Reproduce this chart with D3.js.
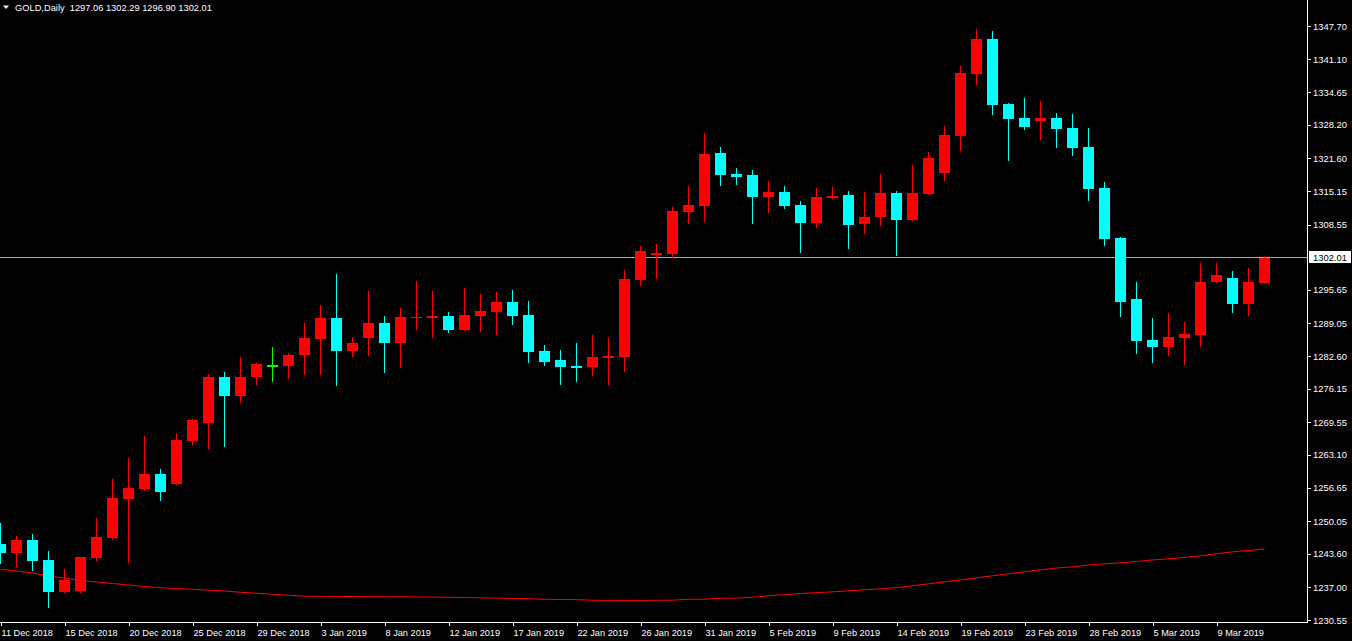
<!DOCTYPE html>
<html>
<head>
<meta charset="utf-8">
<script src="https://cdn.jsdelivr.net/npm/d3@7"></script>
<style>
  html, body { margin: 0; padding: 0; background: #000; }
  svg { display: block; }
  text { font-family: "Liberation Sans", Arial, sans-serif; }
</style>
</head>
<body>
<svg id="chart" width="1352" height="641"></svg>
<script>
// ---- Data (GOLD, Daily) ----
const symbol = "GOLD,Daily";
const lastQuote = [1297.06, 1302.29, 1296.90, 1302.01];

const open = [1245.54,1243.77,1246.33,1242.39,1236.13,1236.33,1242.84,1246.78,1254.47,1256.45,
  1259.35,1257.43,1265.91,1269.46,1278.48,1274.79,1278.54,1280.78,1280.71,1282.87,
  1286.03,1290.11,1283.66,1286.23,1289.13,1285.24,1290.17,1290.17,1290.51,1287.81,
  1290.57,1291.36,1293.27,1290.70,1283.60,1281.83,1280.65,1280.51,1282.28,1282.48,
  1297.67,1302.60,1302.79,1311.08,1312.26,1322.65,1318.51,1318.31,1314.04,1314.96,
  1312.40,1308.91,1313.84,1314.37,1308.71,1310.09,1314.77,1309.50,1314.63,1318.77,
  1326.07,1338.29,1345.14,1332.32,1329.56,1329.02,1329.56,1327.58,1323.84,1315.75,
  1305.89,1293.86,1285.77,1284.45,1286.23,1286.82,1297.27,1298.00,1292.93,1297.06];
const high = [1249.68,1247.12,1247.51,1244.16,1240.61,1242.98,1250.67,1258.36,1262.50,1266.84,
  1260.33,1267.43,1270.19,1279.07,1279.46,1282.42,1281.24,1284.39,1283.21,1289.13,
  1292.68,1298.79,1286.37,1295.44,1290.51,1292.08,1297.41,1295.44,1291.30,1296.03,
  1294.85,1295.24,1295.63,1293.47,1284.79,1283.80,1285.18,1286.76,1286.17,1299.58,
  1304.31,1304.71,1312.00,1316.15,1326.60,1323.84,1319.70,1319.30,1317.13,1316.15,
  1313.19,1315.75,1315.95,1315.16,1314.96,1318.51,1315.16,1320.29,1322.85,1327.98,
  1339.81,1347.11,1346.71,1332.51,1333.50,1332.91,1330.54,1330.35,1327.58,1316.93,
  1306.09,1297.21,1290.11,1291.10,1289.32,1300.96,1300.96,1299.38,1299.97,1302.29];
const low = [1241.66,1241.00,1240.27,1232.98,1235.88,1235.88,1242.25,1246.39,1241.85,1256.05,
  1254.08,1257.20,1265.12,1264.34,1264.73,1273.41,1276.96,1277.55,1278.14,1278.87,
  1278.93,1276.76,1282.48,1282.68,1279.32,1280.31,1287.81,1286.23,1287.21,1287.60,
  1287.41,1286.82,1288.79,1281.30,1280.71,1276.96,1277.55,1278.73,1276.96,1279.52,
  1296.48,1297.86,1302.00,1308.71,1309.10,1316.20,1316.40,1308.71,1310.88,1311.67,
  1302.99,1307.92,1313.64,1303.78,1306.74,1308.32,1302.40,1309.30,1314.45,1317.19,
  1323.11,1336.12,1330.21,1321.14,1327.25,1325.28,1323.70,1322.12,1313.25,1304.37,
  1290.37,1283.07,1281.30,1282.68,1280.90,1284.45,1297.07,1291.16,1290.57,1296.90];
const close = [1243.82,1246.33,1242.25,1236.13,1238.44,1242.98,1246.92,1254.61,1256.59,1259.35,
  1255.86,1266.05,1270.00,1278.48,1274.79,1278.48,1281.04,1280.78,1282.82,1286.17,
  1290.11,1283.66,1285.18,1289.13,1285.24,1290.31,1290.37,1290.51,1287.81,1290.70,
  1291.49,1293.27,1290.57,1283.47,1281.49,1280.51,1280.31,1282.42,1282.62,1297.80,
  1303.33,1302.87,1311.22,1312.40,1322.46,1318.37,1317.98,1314.04,1314.96,1312.26,
  1308.91,1313.98,1314.17,1308.51,1310.03,1314.77,1309.50,1314.77,1321.67,1326.20,
  1338.43,1345.14,1332.18,1329.42,1327.84,1329.56,1327.45,1323.70,1315.61,1305.75,
  1293.33,1285.64,1284.45,1286.37,1286.96,1297.21,1298.59,1292.93,1297.21,1302.01];
const movingAverage = [1240.55,1240.22,1239.82,1239.23,1238.83,1238.34,1238.05,1237.75,1237.45,1237.16,
  1236.92,1236.76,1236.61,1236.43,1236.27,1236.02,1235.82,1235.62,1235.42,1235.25,
  1235.22,1235.20,1235.18,1235.16,1235.14,1235.12,1235.10,1235.07,1235.03,1234.97,
  1234.92,1234.88,1234.80,1234.75,1234.63,1234.60,1234.57,1234.44,1234.42,1234.41,
  1234.42,1234.44,1234.46,1234.63,1234.65,1234.83,1234.86,1235.03,1235.33,1235.54,
  1235.78,1235.94,1236.11,1236.31,1236.51,1236.70,1236.94,1237.30,1237.69,1238.09,
  1238.48,1238.87,1239.27,1239.66,1240.06,1240.45,1240.81,1241.04,1241.40,1241.63,
  1241.83,1242.09,1242.39,1242.62,1242.88,1243.21,1243.61,1244.00,1244.26,1244.55];

const tickBars = [0,4,8,12,16,20,24,28,32,36,40,44,48,52,56,60,64,68,72,76];
const tickLabels = ["11 Dec 2018","15 Dec 2018","20 Dec 2018","25 Dec 2018","29 Dec 2018",
  "3 Jan 2019","8 Jan 2019","12 Jan 2019","17 Jan 2019","22 Jan 2019","26 Jan 2019",
  "31 Jan 2019","5 Feb 2019","9 Feb 2019","14 Feb 2019","19 Feb 2019","23 Feb 2019",
  "28 Feb 2019","5 Mar 2019","9 Mar 2019"];
const priceTicks = [1347.70,1341.10,1334.65,1328.20,1321.60,1315.15,1308.55,1295.65,1289.05,
  1282.60,1276.15,1269.55,1263.10,1256.65,1250.05,1243.60,1237.00,1230.55];

// ---- Layout ----
const svg = d3.select("#chart");
const axisX = 1307, axisY = 622;
const bars = d3.range(open.length);
const x = d3.scalePoint().domain(bars).range([0.5, 0.5 + 16 * (bars.length - 1)]);
const y = d3.scaleLinear().domain([1230.55, 1347.70]).range([620, 26]);

const UP = "#ff0000", DOWN = "#00ffff", FLAT = "#00ff00";
const colorOf = i => close[i] > open[i] ? UP : (close[i] < open[i] ? DOWN : FLAT);

// moving average
svg.append("path")
  .datum(bars)
  .attr("fill", "none")
  .attr("stroke", "#ff0000")
  .attr("stroke-width", 1)
  .attr("d", d3.line().x(i => x(i)).y(i => y(movingAverage[i])));

// current price line
const lastY = Math.floor(y(close[close.length - 1])) + 0.5;
svg.append("line")
  .attr("x1", 0).attr("x2", axisX).attr("y1", lastY).attr("y2", lastY)
  .attr("stroke", "#a8a8a8").attr("stroke-width", 1);

// candles
const candles = svg.append("g").attr("shape-rendering", "crispEdges");
const g = candles.selectAll("g").data(bars).join("g");
g.append("line")
  .attr("x1", i => x(i)).attr("x2", i => x(i))
  .attr("y1", i => y(high[i])).attr("y2", i => y(low[i]))
  .attr("stroke", colorOf).attr("stroke-width", 1);
g.append("rect")
  .attr("x", i => x(i) - 5.5)
  .attr("width", 11)
  .attr("y", i => y(Math.max(open[i], close[i])))
  .attr("height", i => Math.max(1.2, Math.abs(y(open[i]) - y(close[i]))))
  .attr("fill", colorOf);

// axes frame
svg.append("path")
  .attr("d", `M0,${axisY + 0.5}H${axisX + 0.5}V0`)
  .attr("fill", "none").attr("stroke", "#fff").attr("stroke-width", 1)
  .attr("shape-rendering", "crispEdges");

// x axis
const xAxis = d3.axisBottom(x)
  .tickValues(tickBars)
  .tickSize(4)
  .tickFormat((d, k) => tickLabels[k]);
const gx = svg.append("g").attr("transform", `translate(0,${axisY})`).call(xAxis);
gx.select(".domain").remove();
gx.selectAll(".tick line").attr("stroke", "#fff").attr("shape-rendering", "crispEdges");
gx.selectAll(".tick text")
  .attr("fill", "#fff").attr("text-anchor", "start")
  .attr("x", 0.5).attr("y", 7).attr("dy", "0.71em")
  .style("font-size", "9.2px");

// y axis
const yAxis = d3.axisRight(y)
  .tickValues(priceTicks)
  .tickSize(4)
  .tickFormat(d3.format(".2f"));
const gy = svg.append("g").attr("transform", `translate(${axisX},0)`).call(yAxis);
gy.select(".domain").remove();
gy.selectAll(".tick line").attr("stroke", "#fff").attr("shape-rendering", "crispEdges");
gy.selectAll(".tick text")
  .attr("fill", "#fff").attr("x", 6)
  .style("font-size", "9.4px");

// current price label
const priceLabel = svg.append("g").attr("transform", `translate(${axisX + 2},${lastY})`);
priceLabel.append("rect")
  .attr("x", 0).attr("y", -6.5).attr("width", 42).attr("height", 12)
  .attr("fill", "#fff");
priceLabel.append("text")
  .attr("x", 4).attr("y", 0).attr("dy", "0.34em")
  .attr("fill", "#000").style("font-size", "9.4px")
  .text(d3.format(".2f")(close[close.length - 1]));

// title
svg.append("path").attr("d", "M3,5.5H9L6,9Z").attr("fill", "#fff");
svg.append("text")
  .attr("x", 15).attr("y", 10.5)
  .attr("fill", "#fff").style("font-size", "9.3px")
  .style("white-space", "pre")
  .attr("xml:space", "preserve")
  .text(symbol + "  " + lastQuote.map(d3.format(".2f")).join(" "));
</script>
</body>
</html>
